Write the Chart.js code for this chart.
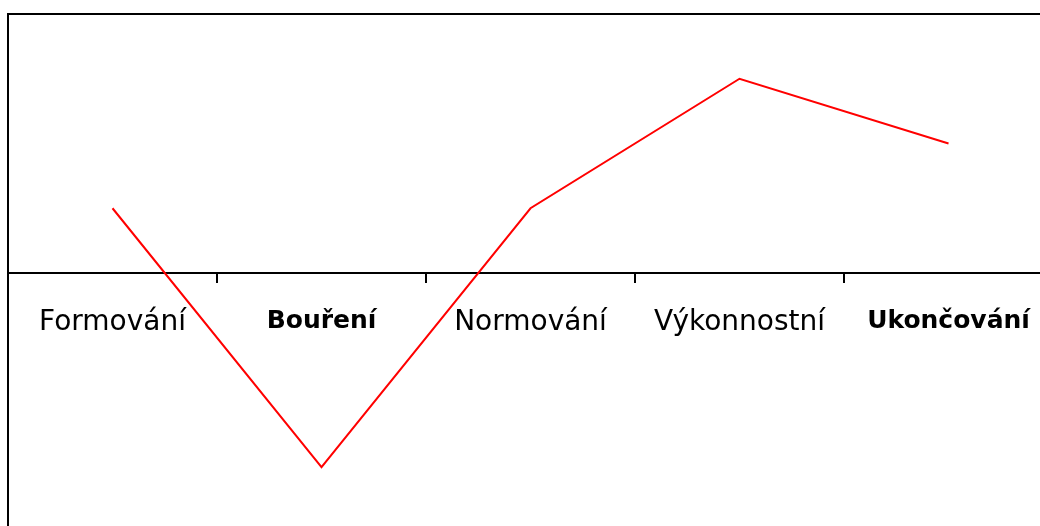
<!DOCTYPE html>
<html>
<head>
<meta charset="utf-8">
<script src="https://cdn.jsdelivr.net/npm/chart.js@4/dist/chart.umd.min.js"></script>
<style>
  html, body { margin: 0; padding: 0; background: #fff; overflow: hidden; }
  #wrap { position: absolute; left: 0; top: 0; width: 1054px; height: 532px; }
</style>
</head>
<body>
<div id="wrap"><canvas id="teamChart"></canvas></div>
<script>
// fáze vývoje týmu
const stages = ['Formování', 'Bouření', 'Normování', 'Výkonnostní', 'Ukončování'];
const performance = [1, -3, 1, 3, 2];
const yMin = -4;
const yMax = 4;

// tučně psané popisky (index)
const boldStages = [1, 4];

const ctx = document.getElementById('teamChart').getContext('2d');

new Chart(ctx, {
  type: 'line',
  data: {
    labels: stages,
    datasets: [{
      data: performance,
      borderColor: '#ff0000',
      borderWidth: 2,
      pointRadius: 0,
      tension: 0,
      fill: false
    }]
  },
  options: {
    responsive: true,
    maintainAspectRatio: false,
    animation: false,
    layout: { padding: { left: 8, top: 14, right: 0, bottom: 0 } },
    plugins: { legend: { display: false }, tooltip: { enabled: false } },
    scales: {
      x: {
        type: 'category',
        position: { y: 0 },
        offset: true,
        grid: {
          display: true,
          offset: true,
          drawOnChartArea: false,
          drawTicks: true,
          tickLength: 9,
          color: '#000',
          lineWidth: 2
        },
        border: { display: true, color: '#000', width: 2 },
        ticks: {
          autoSkip: false,
          maxRotation: 0,
          minRotation: 0,
          padding: 24,
          color: '#000',
          font: (c) => boldStages.includes(c.index)
            ? { family: 'DejaVu Sans', size: 25, weight: 'bold' }
            : { family: 'DejaVu Sans', size: 28, weight: 'normal' }
        }
      },
      xTop: {
        type: 'category',
        position: 'top',
        grid: { display: false, drawTicks: false },
        ticks: { display: false },
        border: { display: true, color: '#000', width: 2 }
      },
      y: {
        min: yMin,
        max: yMax,
        grid: { display: false, drawTicks: false },
        ticks: { display: false },
        border: { display: true, color: '#000', width: 2 }
      }
    }
  }
});
</script>
</body>
</html>
